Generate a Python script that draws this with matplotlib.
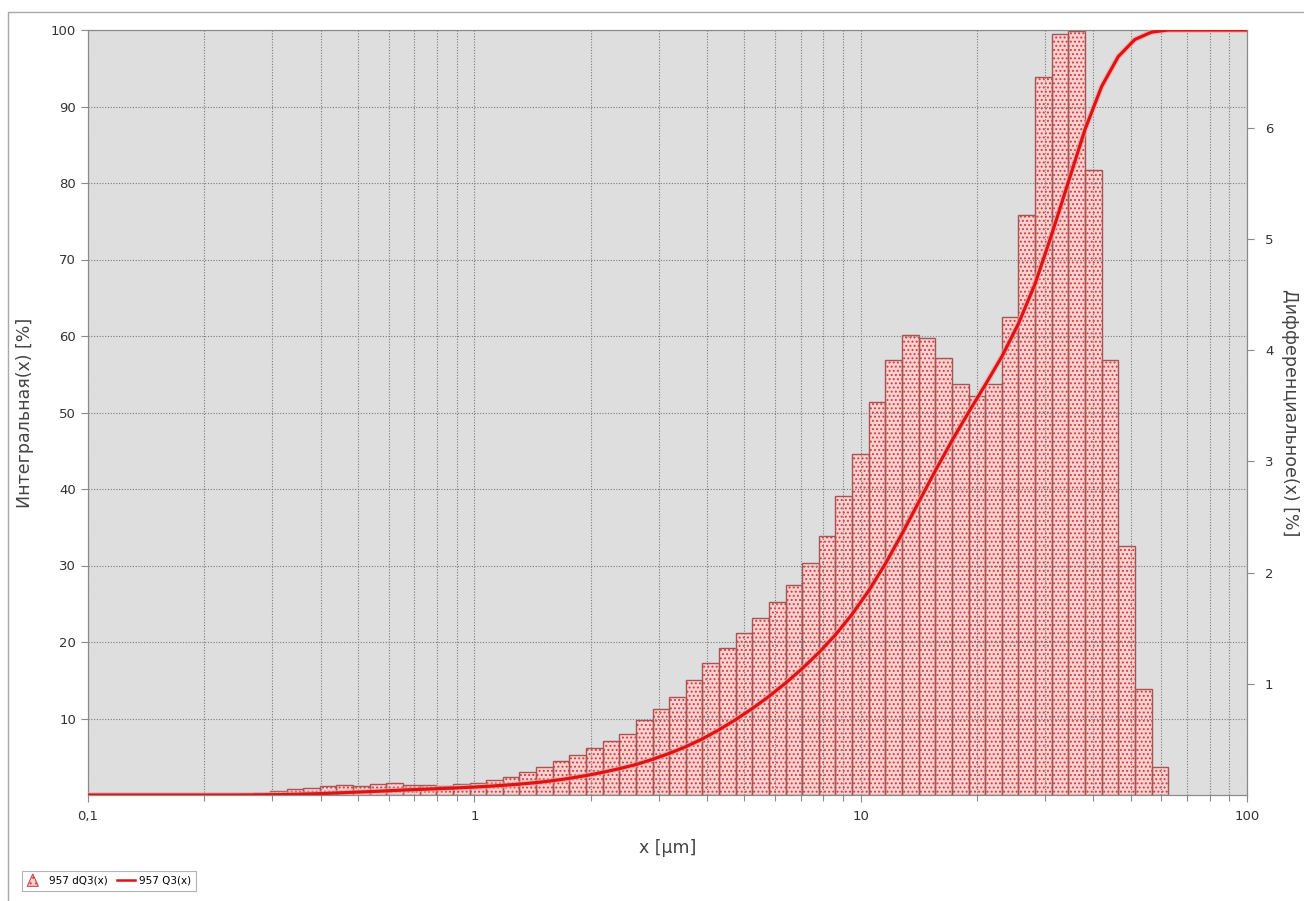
import matplotlib
matplotlib.use("Agg")
import matplotlib.pyplot as plt
import numpy as np
from matplotlib.lines import Line2D
from matplotlib.patches import Patch, Polygon
from matplotlib.legend_handler import HandlerPatch
from matplotlib.ticker import FixedLocator, NullFormatter, FixedFormatter

# ---- data ----
# particle-size class limits (µm): geometric classes from 0.2426 to 62.5 µm
x_min_class = 0.2426
x_max_class = 62.5
n_classes = 56

# dQ3(x) per class [%]
dq3 = [0.010, 0.021, 0.039, 0.051, 0.063, 0.078, 0.093, 0.084, 0.102, 0.105,
       0.087, 0.087, 0.084, 0.102, 0.111, 0.138, 0.162, 0.205, 0.250, 0.306,
       0.357, 0.420, 0.483, 0.546, 0.673, 0.772, 0.877, 1.036, 1.186, 1.321,
       1.453, 1.589, 1.739, 1.889, 2.087, 2.330, 2.690, 3.070, 3.530, 3.910,
       4.135, 4.110, 3.930, 3.700, 3.590, 3.700, 4.300, 5.220, 6.460, 6.840,
       6.870, 5.620, 3.910, 2.243, 0.952, 0.255]

# Q3(x) at the upper class limits [%]
q3 = [0.01, 0.03, 0.07, 0.12, 0.18, 0.26, 0.36, 0.44, 0.54, 0.65,
      0.73, 0.82, 0.90, 1.01, 1.12, 1.26, 1.42, 1.62, 1.87, 2.18,
      2.54, 2.96, 3.44, 3.98, 4.66, 5.43, 6.31, 7.34, 8.53, 9.85,
      11.30, 12.89, 14.63, 16.52, 18.61, 20.94, 23.63, 26.70, 30.23, 34.14,
      38.27, 42.38, 46.31, 50.01, 53.60, 57.30, 61.60, 66.82, 73.28, 80.12,
      86.99, 92.61, 96.52, 98.76, 99.72, 100.0]

x_range = (0.1, 100)
x_major = [0.1, 1, 10, 100]
x_major_labels = ["0,1", "1", "10", "100"]
left_ticks = [10, 20, 30, 40, 50, 60, 70, 80, 90, 100]
right_ticks = [1, 2, 3, 4, 5, 6]
right_max = 6.88

legend_bar = "957 dQ3(x)"
legend_line = "957 Q3(x)"
xlabel = "x [µm]"
ylabel_left = "Интегральная(x) [%]"
ylabel_right = "Дифференциальное(x) [%]"

edges = np.geomspace(x_min_class, x_max_class, n_classes + 1)
curve_x = [x_range[0]] + list(edges) + [x_range[1]]
curve_y = [0.0, 0.0] + q3 + [100.0]

# ---- figure ----
plt.rcParams["font.family"] = ["DejaVu Sans"]
plt.rcParams["hatch.linewidth"] = 0.9

W, H = 1304, 901
fig = plt.figure(figsize=(W / 100, H / 100), dpi=100)
fig.patch.set_facecolor("white")

L, R, T, B = 88, 1247, 30, 795
ax = fig.add_axes([L / W, 1 - B / H, (R - L) / W, (B - T) / H])
ax2 = ax.twinx()
ax.set_zorder(ax2.get_zorder() + 1)
ax.patch.set_visible(False)
ax2.patch.set_visible(True)
ax2.patch.set_facecolor("#dedede")

# bars (right scale)
widths = np.diff(edges)
ax2.bar(edges[:-1], dq3, width=widths, align="edge", color="#f7d2d2",
        edgecolor="#d83a3a", hatch="....", linewidth=0, zorder=1)
ax2.bar(edges[:-1], dq3, width=widths, align="edge", fill=False,
        edgecolor="#a85454", linewidth=1.0, zorder=2)
ax2.set_xscale("log")
ax2.set_ylim(0, right_max)
ax2.yaxis.set_major_locator(FixedLocator(right_ticks))

# cumulative curve (left scale)
ax.plot(curve_x, curve_y, color="#f4a0a0", linewidth=4.2, alpha=0.6,
        solid_capstyle="butt", zorder=3)
ax.plot(curve_x, curve_y, color="#dd1414", linewidth=2.3, zorder=4)
ax.set_xscale("log")
ax.set_xlim(*x_range)
ax.set_ylim(0, 100)
ax.yaxis.set_major_locator(FixedLocator(left_ticks))
ax.xaxis.set_major_locator(FixedLocator(x_major))
ax.xaxis.set_major_formatter(FixedFormatter(x_major_labels))
minors = [m * 10.0 ** e for e in (-1, 0, 1) for m in range(2, 10)]
ax.xaxis.set_minor_locator(FixedLocator(minors))
ax.xaxis.set_minor_formatter(NullFormatter())

ax.grid(True, which="both", axis="x", linestyle=(0, (1, 1.5)),
        color="#7a7a7a", linewidth=0.8)
ax.grid(True, which="major", axis="y", linestyle=(0, (1, 1.5)),
        color="#7a7a7a", linewidth=0.8)

for a in (ax, ax2):
    for s in a.spines.values():
        s.set_color("#8a8a8a")
        s.set_linewidth(0.8)
    a.tick_params(direction="out", length=5, width=0.8, color="#8a8a8a",
                  labelsize=9.5, labelcolor="#333333")
ax.tick_params(axis="x", which="minor", length=4, width=0.8, color="#8a8a8a")
ax.tick_params(axis="x", which="major", pad=6)
ax2.tick_params(axis="y", pad=8)
ax2.tick_params(axis="x", which="both", bottom=False, labelbottom=False)

ax.set_xlabel(xlabel, fontsize=12.5, color="#444444")
ax.xaxis.set_label_coords(0.5, -0.058)
ax.set_ylabel(ylabel_left, fontsize=12.5, color="#444444")
ax.yaxis.set_label_coords(-0.047, 0.5)
ax2.set_ylabel(ylabel_right, fontsize=12.5, color="#444444", rotation=270,
               va="center")
ax2.yaxis.set_label_coords(1.037, 0.5)


# legend with triangular hatch icon
class HandlerTriangle(HandlerPatch):
    def create_artists(self, legend, orig_handle, xdescent, ydescent,
                       width, height, fontsize, trans):
        h = height * 1.7
        w = h * 0.9
        y0 = -height * 0.35
        p = Polygon([[0, y0], [w, y0], [w / 2, y0 + h]], closed=True,
                    facecolor="#f7d2d2", edgecolor="#d04848", hatch="...",
                    linewidth=0.8, transform=trans)
        return [p]


bar_handle = Patch(facecolor="#f7d2d2", edgecolor="#d04848", hatch="...")
line_handle = Line2D([], [], color="#dd1414", linewidth=1.8)
leg = fig.legend([bar_handle, line_handle], [legend_bar, legend_line],
                 handler_map={Patch: HandlerTriangle()},
                 loc="lower left", bbox_to_anchor=(22 / W, 1 - 891 / H),
                 borderaxespad=0, ncol=2, fontsize=7.5, frameon=True,
                 fancybox=False, edgecolor="#a0a0a0", handlelength=1.7,
                 handletextpad=0.4, columnspacing=0.9, borderpad=0.5)
leg.get_frame().set_linewidth(0.8)

# outer frame
fig.add_artist(Line2D([8 / W, 8 / W, 1.0], [0.0, 1 - 12 / H, 1 - 12 / H],
                      transform=fig.transFigure, color="#a8a8a8",
                      linewidth=1.0))

fig.savefig("out.png", dpi=100, facecolor="white")
